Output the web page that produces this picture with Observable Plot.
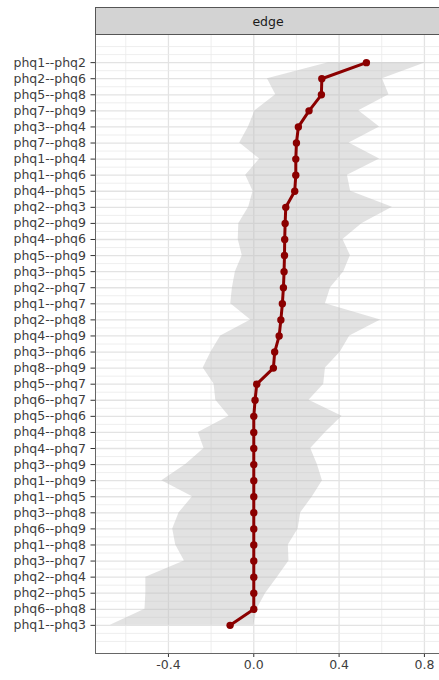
<!DOCTYPE html>
<html>
<head>
<meta charset="utf-8">
<script src="https://cdn.jsdelivr.net/npm/d3@7"></script>
<script src="https://cdn.jsdelivr.net/npm/@observablehq/plot@0.6"></script>
<style>
  html, body { margin: 0; padding: 0; background: white; overflow: hidden; }
  #wrap { position: relative; width: 439px; height: 680px; overflow: hidden; }
  #strip {
    position: absolute; left: 95px; top: 7px; width: 346px; height: 28px;
    background: #d3d3d3; border: 1px solid #555; box-sizing: border-box;
    font-family: "DejaVu Sans", sans-serif; font-size: 12.5px; color: #1a1a1a;
    display: flex; align-items: center; justify-content: center;
  }
  #chart { position: absolute; left: 0; top: 0; }
</style>
</head>
<body>
<div id="wrap">
  <div id="chart"></div>
  <div id="strip">edge</div>
</div>
<script>
const edges = [
  "phq1--phq2","phq2--phq6","phq5--phq8","phq7--phq9","phq3--phq4","phq7--phq8",
  "phq1--phq4","phq1--phq6","phq4--phq5","phq2--phq3","phq2--phq9","phq4--phq6",
  "phq5--phq9","phq3--phq5","phq2--phq7","phq1--phq7","phq2--phq8","phq4--phq9",
  "phq3--phq6","phq8--phq9","phq5--phq7","phq6--phq7","phq5--phq6","phq4--phq8",
  "phq4--phq7","phq3--phq9","phq1--phq9","phq1--phq5","phq3--phq8","phq6--phq9",
  "phq1--phq8","phq3--phq7","phq2--phq4","phq2--phq5","phq6--phq8","phq1--phq3"
];
const weights = [
  0.528, 0.319, 0.317, 0.259, 0.209, 0.200,
  0.197, 0.197, 0.192, 0.150, 0.147, 0.145,
  0.144, 0.142, 0.139, 0.134, 0.127, 0.119,
  0.098, 0.092, 0.014, 0.006, 0.000, 0.000,
  0.000, 0.000, 0.000, 0.000, 0.000, 0.000,
  0.000, 0.000, 0.000, 0.000, 0.000, -0.111
];
const lower = [
  0.350, 0.064, 0.103, 0.006, -0.025, -0.066,
  0.028, -0.038, -0.003, -0.024, -0.070, -0.073,
  -0.054, -0.086, -0.100, -0.108, -0.014, -0.155,
  -0.200, -0.237, -0.186, -0.178, -0.116, -0.260,
  -0.233, -0.319, -0.431, -0.287, -0.350, -0.380,
  -0.366, -0.325, -0.506, -0.506, -0.510, -0.672
];
const upper = [
  0.806, 0.603, 0.634, 0.492, 0.590, 0.447,
  0.590, 0.439, 0.454, 0.650, 0.508, 0.418,
  0.453, 0.422, 0.360, 0.336, 0.595, 0.450,
  0.406, 0.336, 0.328, 0.259, 0.414, 0.336,
  0.267, 0.298, 0.322, 0.275, 0.220, 0.208,
  0.162, 0.165, 0.111, 0.056, 0.015, 0.000
];
const xTicks = [-0.4, 0, 0.4, 0.8];
const xMinor = [-0.6, -0.2, 0.2, 0.6];

const rows = edges.map((e, i) => ({edge: e, pos: i + 1, w: weights[i], lo: lower[i], hi: upper[i]}));
const yMajor = d3.range(1, edges.length + 1);
const yMinor = [0].concat(d3.range(0.5, edges.length + 1, 1), [edges.length + 1]);

const chart = Plot.plot({
  width: 439,
  height: 680,
  marginLeft: 95,
  marginRight: 0,
  marginTop: 34,
  marginBottom: 27,
  x: {domain: [-0.742, 0.8707]},
  y: {domain: [edges.length + 1.75, -0.75]},
  style: {fontFamily: "'DejaVu Sans', sans-serif", fontSize: "12.5px", background: "white", color: "#3d3d3d"},
  marks: [
    Plot.ruleX(xMinor, {stroke: "#eaeaea", strokeWidth: 0.8}),
    Plot.ruleX(xTicks, {stroke: "#e3e3e3", strokeWidth: 1.3}),
    Plot.ruleY(yMinor, {stroke: "#eaeaea", strokeWidth: 0.8}),
    Plot.ruleY(yMajor, {stroke: "#e3e3e3", strokeWidth: 1.3}),
    Plot.areaX(rows, {y: "pos", x1: "lo", x2: "hi", fill: "#bebebe", fillOpacity: 0.45}),
    Plot.line(rows, {x: "w", y: "pos", stroke: "#8b0000", strokeWidth: 3}),
    Plot.dot(rows, {x: "w", y: "pos", r: 3.7, fill: "#8b0000", stroke: "none"}),
    Plot.axisX({ticks: xTicks, tickFormat: d => d.toFixed(1), tickSize: 4, tickPadding: 3, label: null, stroke: "#333", fill: "#3d3d3d"}),
    Plot.axisY({ticks: yMajor, tickFormat: i => edges[i - 1], tickSize: 4.5, tickPadding: 5, label: null, stroke: "#333", fill: "#3d3d3d"}),
    Plot.frame({stroke: "#666", strokeWidth: 1})
  ]
});
document.getElementById("chart").appendChild(chart);
</script>
</body>
</html>
